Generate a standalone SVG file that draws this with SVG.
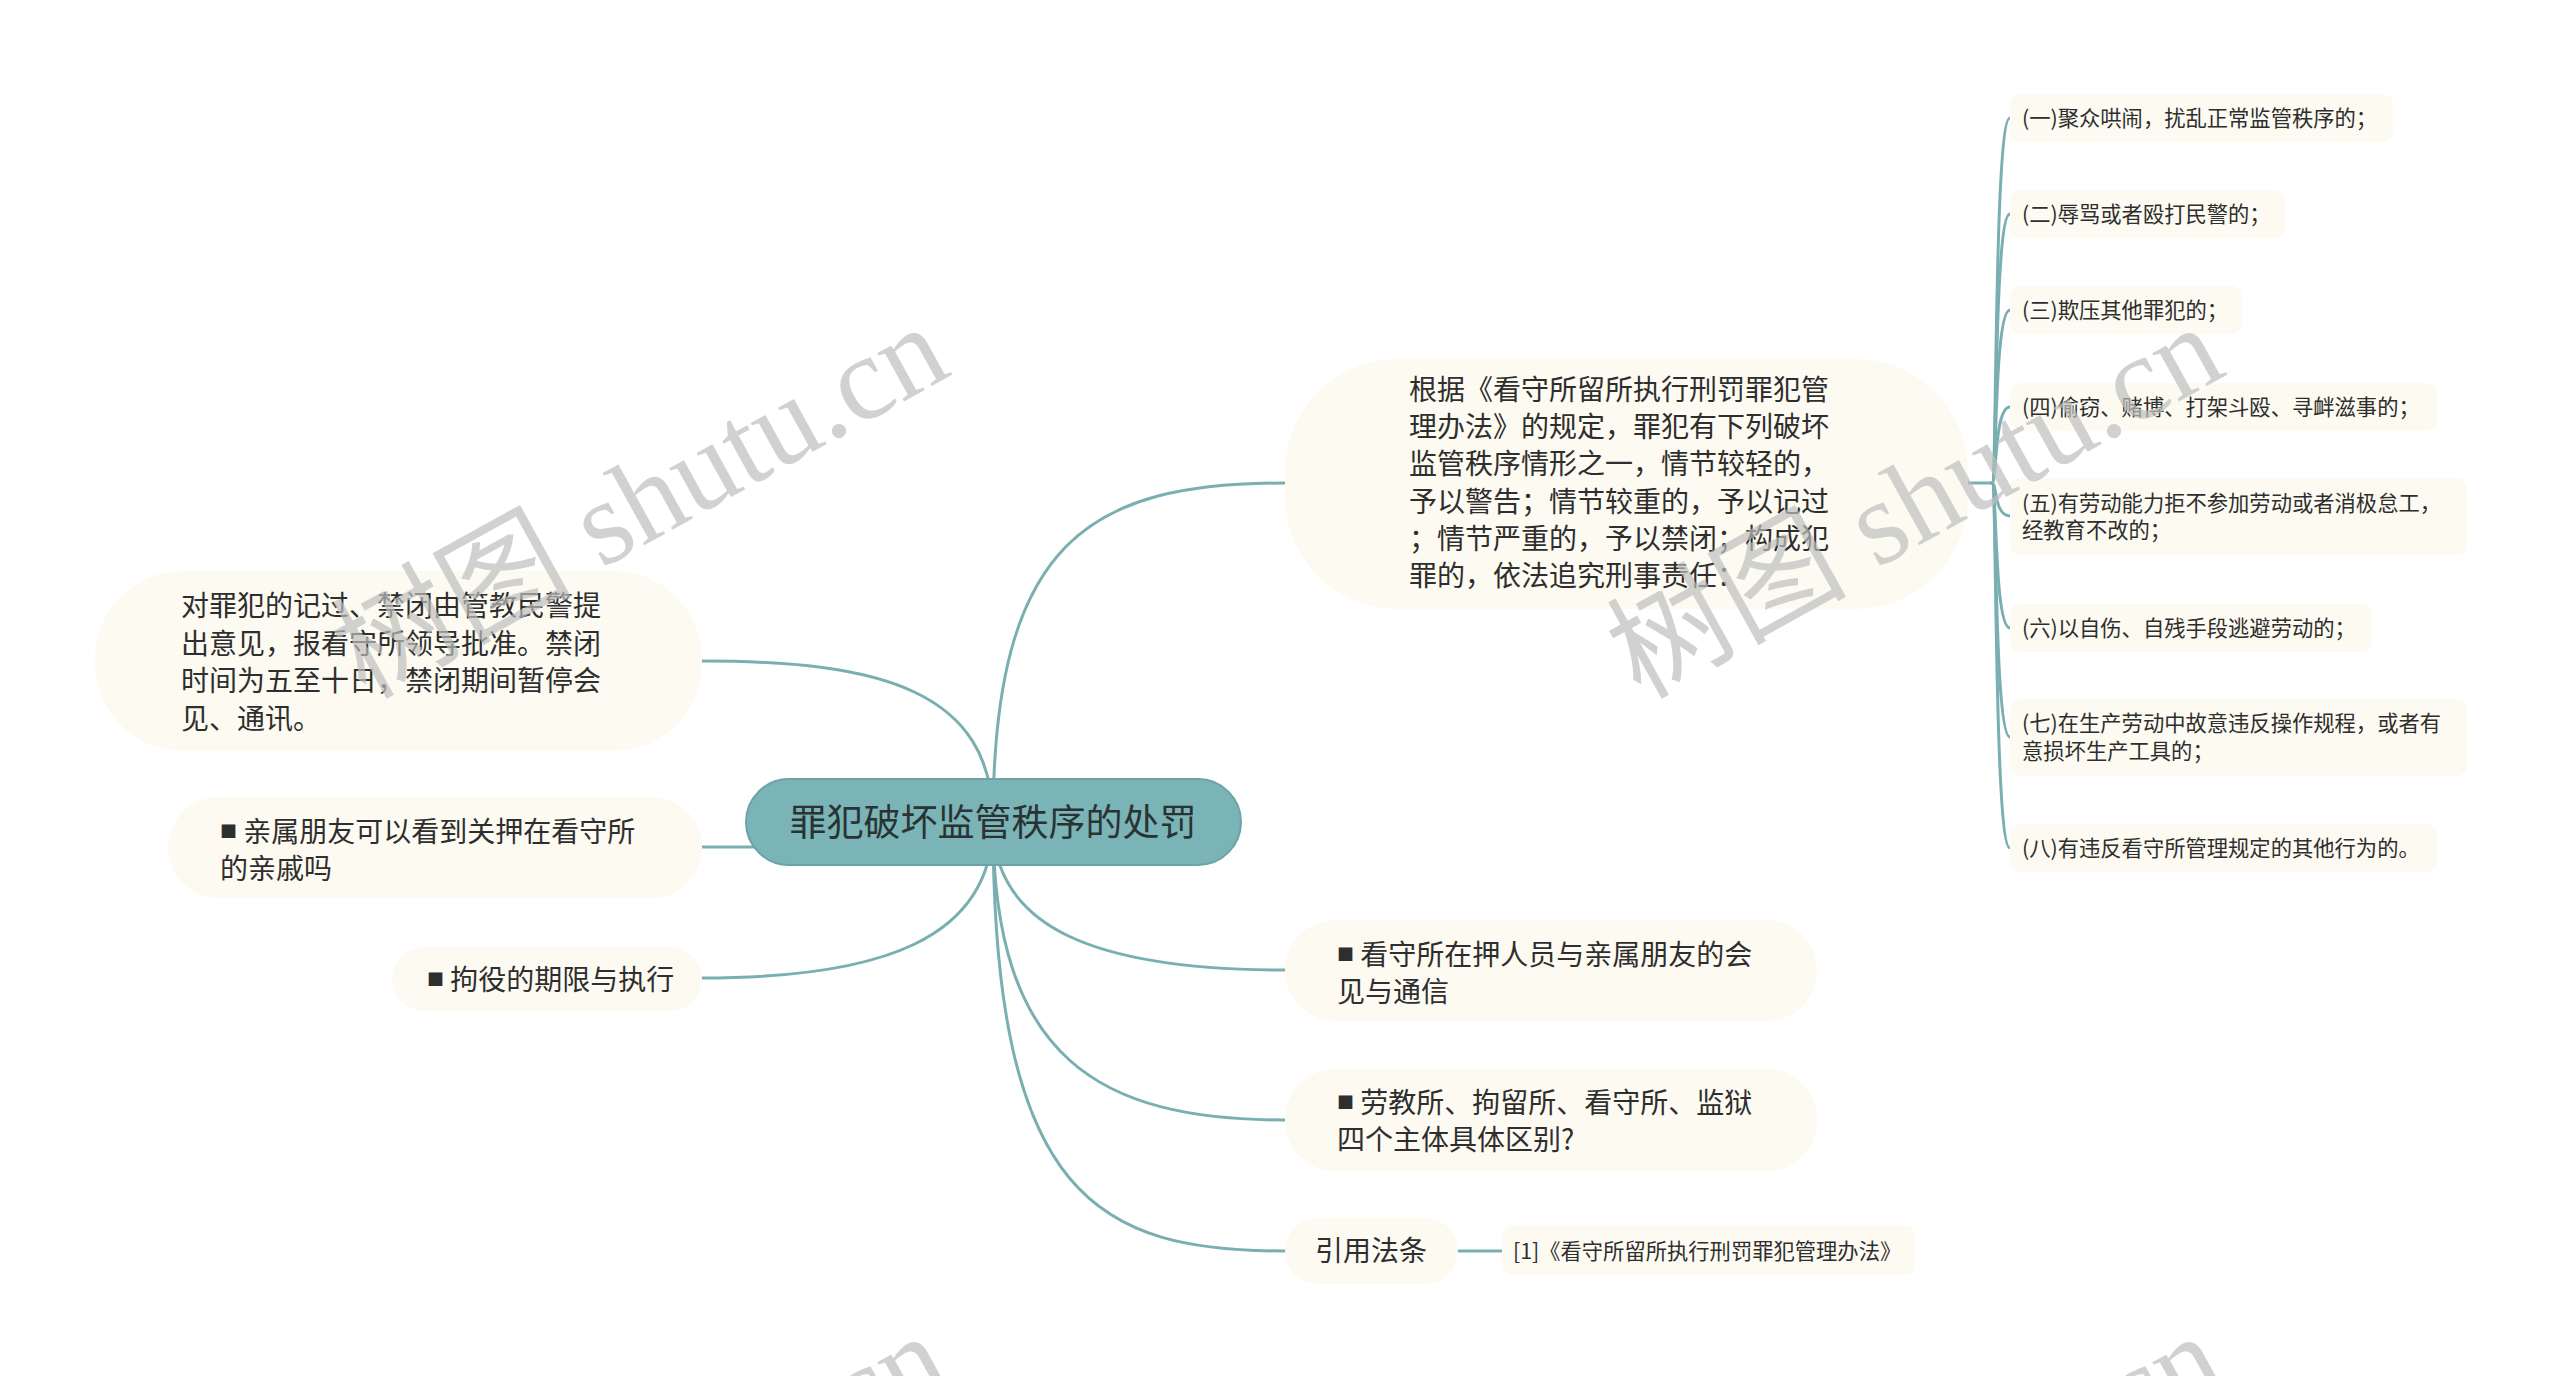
<svg xmlns="http://www.w3.org/2000/svg" width="2560" height="1376" viewBox="0 0 2560 1376">
<style>
.conn{fill:none;stroke:#7aafb2;stroke-width:3;stroke-linecap:round}
.bub{fill:#fcfaf1}
.box{fill:#fcfaf1}
.t{font-family:"Noto Sans CJK SC",sans-serif;font-size:28px;fill:#2e2e2e}
.s{font-family:"Noto Sans CJK SC",sans-serif;font-size:21.3px;fill:#2e2e2e}
.b{font-size:17px}
.wm{font-family:"Liberation Serif","Noto Sans CJK SC",serif;font-size:120px;fill:#bdbdbd;fill-opacity:0.7}
</style>
<rect x="0" y="0" width="2560" height="1376" fill="#ffffff"/>
<g id="connectors">
<path class="conn" d="M993,822 C993,690 880,661 702,661"/>
<path class="conn" d="M993,822 C960,847 880,847 702,847"/>
<path class="conn" d="M993,822 C993,940 880,978 702,978"/>
<path class="conn" d="M993,822 C993,540 1090,483 1285,483"/>
<path class="conn" d="M993,822 C993,930 1100,970 1285,970"/>
<path class="conn" d="M993,822 C993,1060 1100,1120 1285,1120"/>
<path class="conn" d="M993,822 C993,1200 1100,1251 1285,1251"/>
<path class="conn" d="M1968,483 H1992"/>
<path class="conn" d="M1992,483 C1997,483 1994,118 2010,118"/>
<path class="conn" d="M1992,483 C1997,483 1994,214 2010,214"/>
<path class="conn" d="M1992,483 C1997,483 1994,310 2010,310"/>
<path class="conn" d="M1992,483 C1997,483 1994,407 2010,407"/>
<path class="conn" d="M1992,483 C1997,483 1994,516 2010,516"/>
<path class="conn" d="M1992,483 C1997,483 1994,628 2010,628"/>
<path class="conn" d="M1992,483 C1997,483 1994,737 2010,737"/>
<path class="conn" d="M1992,483 C1997,483 1994,848 2010,848"/>
<path class="conn" d="M1458,1251 H1502"/>
</g>
<g id="root">
<rect x="746" y="779" width="495" height="86" rx="43" fill="#7bb4b7" stroke="#6ba3a6" stroke-width="2"/>
<text x="993" y="836" text-anchor="middle" class="t" style="font-size:37px;fill:#2a3334">罪犯破坏监管秩序的处罚</text>
</g>
<g id="n-left1">
<rect class="bub" x="95" y="571" width="607" height="180" rx="88"/>
<text class="t" x="181"><tspan x="181" y="616">对罪犯的记过、禁闭由管教民警提</tspan><tspan x="181" y="653.5">出意见，报看守所领导批准。禁闭</tspan><tspan x="181" y="691">时间为五至十日，禁闭期间暂停会</tspan><tspan x="181" y="728.5">见、通讯。</tspan></text>
</g>
<g id="n-left2">
<rect class="bub" x="168" y="797" width="534" height="101" rx="50"/>
<text class="t" x="220" y="842"><tspan class="b" dy="-4">■</tspan><tspan dy="4"> 亲属朋友可以看到关押在看守所</tspan><tspan x="220" y="879">的亲戚吗</tspan></text>
</g>
<g id="n-left3">
<rect class="bub" x="392" y="947" width="310" height="64" rx="32"/>
<text class="t" x="427" y="990"><tspan class="b" dy="-4">■</tspan><tspan dy="4"> 拘役的期限与执行</tspan></text>
</g>
<g id="n-right1">
<rect class="bub" x="1285" y="359" width="683" height="250" rx="112"/>
<text class="t"><tspan x="1409" y="400">根据《看守所留所执行刑罚罪犯管</tspan><tspan x="1409" y="437.2">理办法》的规定，罪犯有下列破坏</tspan><tspan x="1409" y="474.4">监管秩序情形之一，情节较轻的，</tspan><tspan x="1409" y="511.6">予以警告；情节较重的，予以记过</tspan><tspan x="1409" y="548.8">；情节严重的，予以禁闭；构成犯</tspan><tspan x="1409" y="586">罪的，依法追究刑事责任：</tspan></text>
</g>
<g id="n-item1"><rect class="box" x="2010" y="94" width="383" height="48" rx="10"/><text class="s" x="2022" y="126">(一)聚众哄闹，扰乱正常监管秩序的；</text></g>
<g id="n-item2"><rect class="box" x="2010" y="190" width="275" height="48" rx="10"/><text class="s" x="2022" y="222">(二)辱骂或者殴打民警的；</text></g>
<g id="n-item3"><rect class="box" x="2010" y="286" width="232" height="48" rx="10"/><text class="s" x="2022" y="318">(三)欺压其他罪犯的；</text></g>
<g id="n-item4"><rect class="box" x="2010" y="383" width="427" height="48" rx="10"/><text class="s" x="2022" y="415">(四)偷窃、赌博、打架斗殴、寻衅滋事的；</text></g>
<g id="n-item5"><rect class="box" x="2010" y="478" width="457" height="77" rx="10"/><text class="s"><tspan x="2022" y="511">(五)有劳动能力拒不参加劳动或者消极怠工，</tspan><tspan x="2022" y="538">经教育不改的；</tspan></text></g>
<g id="n-item6"><rect class="box" x="2010" y="604" width="362" height="48" rx="10"/><text class="s" x="2022" y="636">(六)以自伤、自残手段逃避劳动的；</text></g>
<g id="n-item7"><rect class="box" x="2010" y="699" width="457" height="77" rx="10"/><text class="s"><tspan x="2022" y="731">(七)在生产劳动中故意违反操作规程，或者有</tspan><tspan x="2022" y="759">意损坏生产工具的；</tspan></text></g>
<g id="n-item8"><rect class="box" x="2010" y="824" width="427" height="48" rx="10"/><text class="s" x="2022" y="856">(八)有违反看守所管理规定的其他行为的。</text></g>
<g id="n-right2">
<rect class="bub" x="1285" y="920" width="532" height="101" rx="50"/>
<text class="t" x="1337" y="965"><tspan class="b" dy="-4">■</tspan><tspan dy="4"> 看守所在押人员与亲属朋友的会</tspan><tspan x="1337" y="1002">见与通信</tspan></text>
</g>
<g id="n-right3">
<rect class="bub" x="1285" y="1069" width="532" height="102" rx="50"/>
<text class="t" x="1337" y="1113"><tspan class="b" dy="-4">■</tspan><tspan dy="4"> 劳教所、拘留所、看守所、监狱</tspan><tspan x="1337" y="1150">四个主体具体区别?</tspan></text>
</g>
<g id="n-right4">
<rect class="bub" x="1285" y="1218" width="173" height="66" rx="33"/>
<text class="t" x="1371" y="1261" text-anchor="middle">引用法条</text>
</g>
<g id="n-ref">
<rect class="box" x="1502" y="1225" width="413" height="50" rx="10"/>
<text class="s" x="1513" y="1259">[1]《看守所留所执行刑罚罪犯管理办法》</text>
</g>
<g id="watermarks">
<text class="wm" x="365" y="700" transform="rotate(-29 365 700)">树图 shutu.cn</text>
<text class="wm" x="1640" y="700" transform="rotate(-29 1640 700)">树图 shutu.cn</text>
<text class="wm" x="365" y="1709" transform="rotate(-29 365 1709)">树图 shutu.cn</text>
<text class="wm" x="1640" y="1709" transform="rotate(-29 1640 1709)">树图 shutu.cn</text>
</g>
</svg>
